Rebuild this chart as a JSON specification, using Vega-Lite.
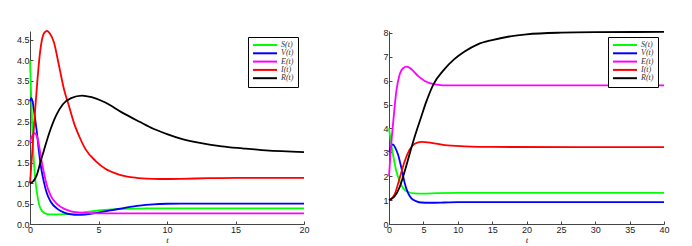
{
  "$schema": "https://vega.github.io/schema/vega-lite/v6.json",
  "padding": {"left": 16, "top": 27, "right": 0, "bottom": 0},
  "spacing": 72,
  "datasets": {
    "left": [
      {"t": 0, "v": 4.0, "s": "S(t)"}, {"t": 0.1, "v": 3.0, "s": "S(t)"}, {"t": 0.17, "v": 2.3, "s": "S(t)"}, {"t": 0.29, "v": 1.5, "s": "S(t)"}, {"t": 0.4, "v": 1.05, "s": "S(t)"}, {"t": 0.5, "v": 0.78, "s": "S(t)"}, {"t": 0.66, "v": 0.48, "s": "S(t)"}, {"t": 0.9, "v": 0.31, "s": "S(t)"}, {"t": 1.2, "v": 0.25, "s": "S(t)"}, {"t": 1.6, "v": 0.235, "s": "S(t)"}, {"t": 2.0, "v": 0.235, "s": "S(t)"}, {"t": 2.5, "v": 0.24, "s": "S(t)"}, {"t": 3.0, "v": 0.25, "s": "S(t)"}, {"t": 4.0, "v": 0.29, "s": "S(t)"}, {"t": 5.0, "v": 0.33, "s": "S(t)"}, {"t": 6.0, "v": 0.355, "s": "S(t)"}, {"t": 7.0, "v": 0.37, "s": "S(t)"}, {"t": 8.0, "v": 0.378, "s": "S(t)"}, {"t": 10, "v": 0.382, "s": "S(t)"}, {"t": 15, "v": 0.382, "s": "S(t)"}, {"t": 20, "v": 0.382, "s": "S(t)"},
      {"t": 0, "v": 3.0, "s": "V(t)"}, {"t": 0.1, "v": 3.08, "s": "V(t)"}, {"t": 0.2, "v": 2.98, "s": "V(t)"}, {"t": 0.3, "v": 2.75, "s": "V(t)"}, {"t": 0.5, "v": 2.25, "s": "V(t)"}, {"t": 0.66, "v": 1.75, "s": "V(t)"}, {"t": 0.8, "v": 1.4, "s": "V(t)"}, {"t": 1.0, "v": 1.05, "s": "V(t)"}, {"t": 1.2, "v": 0.78, "s": "V(t)"}, {"t": 1.5, "v": 0.55, "s": "V(t)"}, {"t": 2.0, "v": 0.37, "s": "V(t)"}, {"t": 2.5, "v": 0.28, "s": "V(t)"}, {"t": 3.0, "v": 0.235, "s": "V(t)"}, {"t": 3.5, "v": 0.222, "s": "V(t)"}, {"t": 4.0, "v": 0.23, "s": "V(t)"}, {"t": 5.0, "v": 0.28, "s": "V(t)"}, {"t": 6.0, "v": 0.34, "s": "V(t)"}, {"t": 7.0, "v": 0.4, "s": "V(t)"}, {"t": 8.0, "v": 0.45, "s": "V(t)"}, {"t": 9.0, "v": 0.48, "s": "V(t)"}, {"t": 10, "v": 0.495, "s": "V(t)"}, {"t": 11, "v": 0.5, "s": "V(t)"}, {"t": 13, "v": 0.5, "s": "V(t)"}, {"t": 20, "v": 0.5, "s": "V(t)"},
      {"t": 0, "v": 2.0, "s": "E(t)"}, {"t": 0.15, "v": 2.15, "s": "E(t)"}, {"t": 0.35, "v": 2.22, "s": "E(t)"}, {"t": 0.5, "v": 2.15, "s": "E(t)"}, {"t": 0.66, "v": 1.92, "s": "E(t)"}, {"t": 0.8, "v": 1.62, "s": "E(t)"}, {"t": 1.0, "v": 1.28, "s": "E(t)"}, {"t": 1.2, "v": 0.98, "s": "E(t)"}, {"t": 1.5, "v": 0.7, "s": "E(t)"}, {"t": 2.0, "v": 0.48, "s": "E(t)"}, {"t": 2.5, "v": 0.37, "s": "E(t)"}, {"t": 3.0, "v": 0.31, "s": "E(t)"}, {"t": 3.5, "v": 0.285, "s": "E(t)"}, {"t": 4.0, "v": 0.27, "s": "E(t)"}, {"t": 5.0, "v": 0.262, "s": "E(t)"}, {"t": 7, "v": 0.26, "s": "E(t)"}, {"t": 20, "v": 0.26, "s": "E(t)"},
      {"t": 0, "v": 1.0, "s": "I(t)"}, {"t": 0.1, "v": 1.45, "s": "I(t)"}, {"t": 0.25, "v": 2.2, "s": "I(t)"}, {"t": 0.4, "v": 2.9, "s": "I(t)"}, {"t": 0.55, "v": 3.55, "s": "I(t)"}, {"t": 0.7, "v": 4.1, "s": "I(t)"}, {"t": 0.9, "v": 4.55, "s": "I(t)"}, {"t": 1.05, "v": 4.68, "s": "I(t)"}, {"t": 1.25, "v": 4.72, "s": "I(t)"}, {"t": 1.45, "v": 4.66, "s": "I(t)"}, {"t": 1.75, "v": 4.44, "s": "I(t)"}, {"t": 2.1, "v": 3.9, "s": "I(t)"}, {"t": 2.5, "v": 3.27, "s": "I(t)"}, {"t": 2.85, "v": 2.88, "s": "I(t)"}, {"t": 3.2, "v": 2.48, "s": "I(t)"}, {"t": 3.6, "v": 2.14, "s": "I(t)"}, {"t": 4.05, "v": 1.83, "s": "I(t)"}, {"t": 4.8, "v": 1.54, "s": "I(t)"}, {"t": 5.5, "v": 1.35, "s": "I(t)"}, {"t": 6.5, "v": 1.21, "s": "I(t)"}, {"t": 7.5, "v": 1.14, "s": "I(t)"}, {"t": 8.5, "v": 1.11, "s": "I(t)"}, {"t": 9.5, "v": 1.1, "s": "I(t)"}, {"t": 11, "v": 1.105, "s": "I(t)"}, {"t": 13, "v": 1.12, "s": "I(t)"}, {"t": 15, "v": 1.13, "s": "I(t)"}, {"t": 20, "v": 1.13, "s": "I(t)"},
      {"t": 0, "v": 1.0, "s": "R(t)"}, {"t": 0.25, "v": 1.05, "s": "R(t)"}, {"t": 0.5, "v": 1.2, "s": "R(t)"}, {"t": 0.75, "v": 1.5, "s": "R(t)"}, {"t": 1.0, "v": 1.78, "s": "R(t)"}, {"t": 1.4, "v": 2.22, "s": "R(t)"}, {"t": 1.9, "v": 2.65, "s": "R(t)"}, {"t": 2.4, "v": 2.93, "s": "R(t)"}, {"t": 3.0, "v": 3.08, "s": "R(t)"}, {"t": 3.8, "v": 3.14, "s": "R(t)"}, {"t": 4.5, "v": 3.1, "s": "R(t)"}, {"t": 5.5, "v": 2.97, "s": "R(t)"}, {"t": 6.7, "v": 2.73, "s": "R(t)"}, {"t": 8.0, "v": 2.5, "s": "R(t)"}, {"t": 9.0, "v": 2.33, "s": "R(t)"}, {"t": 10, "v": 2.2, "s": "R(t)"}, {"t": 11, "v": 2.09, "s": "R(t)"}, {"t": 12.3, "v": 1.99, "s": "R(t)"}, {"t": 14, "v": 1.9, "s": "R(t)"}, {"t": 15.5, "v": 1.85, "s": "R(t)"}, {"t": 17.2, "v": 1.8, "s": "R(t)"}, {"t": 20, "v": 1.76, "s": "R(t)"}
    ],
    "right": [
      {"t": 0, "v": 4.0, "s": "S(t)"}, {"t": 0.3, "v": 3.4, "s": "S(t)"}, {"t": 0.58, "v": 2.91, "s": "S(t)"}, {"t": 1.07, "v": 2.21, "s": "S(t)"}, {"t": 1.56, "v": 1.79, "s": "S(t)"}, {"t": 2.04, "v": 1.51, "s": "S(t)"}, {"t": 2.76, "v": 1.34, "s": "S(t)"}, {"t": 3.7, "v": 1.28, "s": "S(t)"}, {"t": 5, "v": 1.27, "s": "S(t)"}, {"t": 7, "v": 1.29, "s": "S(t)"}, {"t": 10, "v": 1.3, "s": "S(t)"}, {"t": 20, "v": 1.3, "s": "S(t)"}, {"t": 40, "v": 1.3, "s": "S(t)"},
      {"t": 0, "v": 3.0, "s": "V(t)"}, {"t": 0.3, "v": 3.25, "s": "V(t)"}, {"t": 0.58, "v": 3.33, "s": "V(t)"}, {"t": 0.9, "v": 3.2, "s": "V(t)"}, {"t": 1.31, "v": 2.91, "s": "V(t)"}, {"t": 1.8, "v": 2.35, "s": "V(t)"}, {"t": 2.28, "v": 1.72, "s": "V(t)"}, {"t": 2.76, "v": 1.3, "s": "V(t)"}, {"t": 3.26, "v": 1.07, "s": "V(t)"}, {"t": 4.0, "v": 0.95, "s": "V(t)"}, {"t": 4.7, "v": 0.9, "s": "V(t)"}, {"t": 6, "v": 0.89, "s": "V(t)"}, {"t": 8, "v": 0.9, "s": "V(t)"}, {"t": 10, "v": 0.915, "s": "V(t)"}, {"t": 15, "v": 0.92, "s": "V(t)"}, {"t": 40, "v": 0.92, "s": "V(t)"},
      {"t": 0, "v": 2.0, "s": "E(t)"}, {"t": 0.2, "v": 2.85, "s": "E(t)"}, {"t": 0.4, "v": 3.6, "s": "E(t)"}, {"t": 0.58, "v": 4.17, "s": "E(t)"}, {"t": 1.07, "v": 5.57, "s": "E(t)"}, {"t": 1.56, "v": 6.27, "s": "E(t)"}, {"t": 2.04, "v": 6.52, "s": "E(t)"}, {"t": 2.6, "v": 6.59, "s": "E(t)"}, {"t": 3.26, "v": 6.48, "s": "E(t)"}, {"t": 4.22, "v": 6.2, "s": "E(t)"}, {"t": 5.2, "v": 5.99, "s": "E(t)"}, {"t": 6.65, "v": 5.85, "s": "E(t)"}, {"t": 9, "v": 5.8, "s": "E(t)"}, {"t": 15, "v": 5.8, "s": "E(t)"}, {"t": 40, "v": 5.8, "s": "E(t)"},
      {"t": 0, "v": 1.0, "s": "I(t)"}, {"t": 0.4, "v": 1.07, "s": "I(t)"}, {"t": 0.83, "v": 1.25, "s": "I(t)"}, {"t": 1.56, "v": 1.93, "s": "I(t)"}, {"t": 2.28, "v": 2.63, "s": "I(t)"}, {"t": 3.01, "v": 3.12, "s": "I(t)"}, {"t": 3.74, "v": 3.36, "s": "I(t)"}, {"t": 4.71, "v": 3.44, "s": "I(t)"}, {"t": 6.17, "v": 3.4, "s": "I(t)"}, {"t": 8.1, "v": 3.3, "s": "I(t)"}, {"t": 11, "v": 3.25, "s": "I(t)"}, {"t": 15, "v": 3.225, "s": "I(t)"}, {"t": 40, "v": 3.22, "s": "I(t)"},
      {"t": 0, "v": 1.0, "s": "R(t)"}, {"t": 0.8, "v": 1.15, "s": "R(t)"}, {"t": 1.56, "v": 1.55, "s": "R(t)"}, {"t": 2.28, "v": 2.2, "s": "R(t)"}, {"t": 3.0, "v": 2.93, "s": "R(t)"}, {"t": 3.7, "v": 3.62, "s": "R(t)"}, {"t": 4.7, "v": 4.5, "s": "R(t)"}, {"t": 5.4, "v": 5.1, "s": "R(t)"}, {"t": 6.5, "v": 5.87, "s": "R(t)"}, {"t": 7.85, "v": 6.41, "s": "R(t)"}, {"t": 9.5, "v": 6.9, "s": "R(t)"}, {"t": 11, "v": 7.22, "s": "R(t)"}, {"t": 12.9, "v": 7.52, "s": "R(t)"}, {"t": 15, "v": 7.7, "s": "R(t)"}, {"t": 17.5, "v": 7.85, "s": "R(t)"}, {"t": 20, "v": 7.94, "s": "R(t)"}, {"t": 25, "v": 8.01, "s": "R(t)"}, {"t": 30, "v": 8.03, "s": "R(t)"}, {"t": 40, "v": 8.04, "s": "R(t)"}
    ]
  },
  "hconcat": [
    {
      "width": 274,
      "height": 193,
      "data": {"name": "left"},
      "mark": {"type": "line", "strokeWidth": 1.8, "interpolate": "monotone"},
      "encoding": {
        "x": {"field": "t", "type": "quantitative", "title": "t", "scale": {"domain": [0, 20], "nice": false},
              "axis": {"values": [0, 5, 10, 15, 20]}},
        "y": {"field": "v", "type": "quantitative", "title": null, "scale": {"domain": [0, 4.72], "nice": false},
              "axis": {"values": [0, 0.5, 1, 1.5, 2, 2.5, 3, 3.5, 4, 4.5]}},
        "color": {"field": "s", "type": "nominal", "title": null,
                  "scale": {"domain": ["S(t)", "V(t)", "E(t)", "I(t)", "R(t)"], "range": ["#00ff00", "#0000ff", "#ff00ff", "#ff0000", "#000000"]},
                  "legend": {"orient": "top-right", "offset": 6}}
      }
    },
    {
      "width": 275,
      "height": 193,
      "data": {"name": "right"},
      "mark": {"type": "line", "strokeWidth": 1.8, "interpolate": "monotone"},
      "encoding": {
        "x": {"field": "t", "type": "quantitative", "title": "t", "scale": {"domain": [0, 40], "nice": false},
              "axis": {"values": [0, 5, 10, 15, 20, 25, 30, 35, 40]}},
        "y": {"field": "v", "type": "quantitative", "title": null, "scale": {"domain": [0, 8.08], "nice": false},
              "axis": {"values": [0, 1, 2, 3, 4, 5, 6, 7, 8]}},
        "color": {"field": "s", "type": "nominal", "title": null,
                  "scale": {"domain": ["S(t)", "V(t)", "E(t)", "I(t)", "R(t)"], "range": ["#00ff00", "#0000ff", "#ff00ff", "#ff0000", "#000000"]},
                  "legend": {"orient": "top-right", "offset": 6}}
      }
    }
  ],
  "resolve": {"scale": {"x": "independent", "y": "independent"}, "legend": {"color": "independent"}},
  "config": {
    "view": {"stroke": null},
    "axis": {
      "grid": false, "domainColor": "#444444", "tickColor": "#444444", "tickSize": -3,
      "labelFont": "Liberation Sans", "labelFontSize": 9, "labelColor": "#222222", "labelPadding": 4, "labelFlush": false,
      "titleFont": "Liberation Serif", "titleFontStyle": "italic", "titleFontWeight": "normal", "titleFontSize": 9, "titlePadding": 1, "titleColor": "#222222"
    },
    "legend": {
      "strokeColor": "#000000", "padding": 4, "fillColor": "#ffffff",
      "symbolType": "M-1,0L7,0", "symbolSize": 36, "symbolStrokeWidth": 2,
      "labelFont": "Liberation Serif", "labelFontStyle": "italic", "labelFontSize": 8, "labelColor": "#333333",
      "labelOffset": 21, "rowPadding": 0.3
    }
  }
}
